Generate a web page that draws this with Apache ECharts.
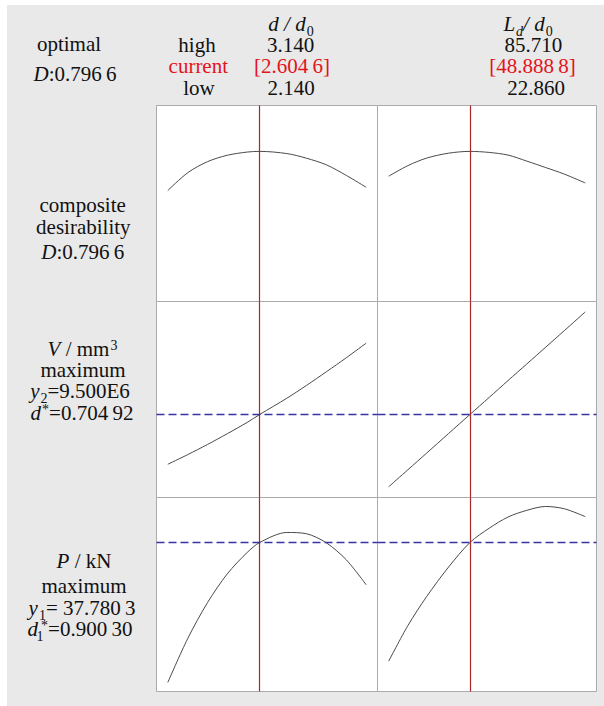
<!DOCTYPE html>
<html>
<head>
<meta charset="utf-8">
<script src="https://cdn.jsdelivr.net/npm/echarts@6/dist/echarts.min.js"></script>
<style>
  html, body { margin: 0; padding: 0; background: #ffffff; }
  #main { width: 604px; height: 706px; }
</style>
</head>
<body>
<div id="main"></div>
<script>
// ---- factor settings ----
const dLow = 2.140, dHigh = 3.140, dCurrent = 2.6046;
const ldLow = 22.860, ldHigh = 85.710, ldCurrent = 48.8888;

// ---- sample points along each factor ----
const dValues  = [2.14, 2.24, 2.34, 2.44, 2.54, 2.6046, 2.74, 2.84, 2.94, 3.04, 3.14];
const ldValues = [22.86, 29, 35, 42, 48.8888, 55, 61, 67, 73, 79, 85.71];

// ---- composite desirability D ----
const desirVsD  = [0.589, 0.683, 0.742, 0.776, 0.793, 0.7966, 0.785, 0.760, 0.725, 0.669, 0.606];
const desirVsLd = [0.665, 0.721, 0.761, 0.787, 0.7966, 0.791, 0.777, 0.745, 0.711, 0.676, 0.629];
const desirCurrent = 0.7966;

// ---- V / mm^3 ----
const volumeVsD  = [7.513e6, 7.895e6, 8.300e6, 8.729e6, 9.178e6, 9.500e6, 10.140e6, 10.656e6, 11.197e6, 11.753e6, 12.333e6];
const volumeVsLd = [6.615e6, 7.295e6, 7.958e6, 8.737e6, 9.500e6, 10.175e6, 10.843e6, 11.503e6, 12.166e6, 12.830e6, 13.577e6];
const volumeCurrent = 9.500e6, volumeDesir = 0.70492;

// ---- P / kN ----
const forceVsD  = [23.72, 28.11, 31.73, 34.62, 36.76, 37.7803, 38.77, 38.64, 37.72, 36.02, 33.52];
const forceVsLd = [25.86, 29.43, 32.34, 35.30, 37.7803, 39.20, 40.32, 40.99, 41.38, 41.15, 40.36];
const forceCurrent = 37.7803, forceDesir = 0.90030;

// ---- axis ranges of the three response rows ----
const desirRange  = [0, 1.04];
const volumeRange = [6.19e6, 13.99e6];
const forceRange  = [22.81, 42.28];

// ---------------------------------------------------------------
const FONT = '"Liberation Serif", "Times New Roman", serif';
const INK = '#111111';
const RED = '#e3141b';

// digits after the point grouped in threes with a thin space
function grouped(v, dec) {
  const s = v.toFixed(dec);
  const parts = s.split('.');
  const frac = parts[1].match(/.{1,3}/g).join('\u2009');
  return parts[0] + '.' + frac;
}

const cols = [
  { left: 156.5, width: 221, xs: dValues,  low: dLow,  high: dHigh,  cur: dCurrent },
  { left: 377.5, width: 219, xs: ldValues, low: ldLow, high: ldHigh, cur: ldCurrent }
];
const rows = [
  { top: 105.5, height: 196, range: desirRange,  ys: [desirVsD,  desirVsLd],  ref: null },
  { top: 301.5, height: 196, range: volumeRange, ys: [volumeVsD, volumeVsLd], ref: volumeCurrent },
  { top: 497.5, height: 194, range: forceRange,  ys: [forceVsD,  forceVsLd],  ref: forceCurrent }
];

const grids = [], xAxes = [], yAxes = [], series = [];
rows.forEach((row, r) => {
  cols.forEach((col, c) => {
    const idx = grids.length;
    const pad = (col.high - col.low) * 0.057;
    grids.push({
      left: col.left, top: row.top, width: col.width, height: row.height,
      show: true, backgroundColor: '#ffffff', borderColor: '#ababab', borderWidth: 1
    });
    xAxes.push({ type: 'value', gridIndex: idx, min: col.low - pad, max: col.high + pad, show: false });
    yAxes.push({ type: 'value', gridIndex: idx, min: row.range[0], max: row.range[1], show: false });
    const marks = [{ xAxis: col.cur, lineStyle: { color: '#a8262c', width: 1.2, type: 'solid' } }];
    if (row.ref !== null) {
      marks.push({ yAxis: row.ref, lineStyle: { color: '#3434a2', width: 1.3, type: [8, 4] } });
    }
    series.push({
      type: 'line',
      xAxisIndex: idx, yAxisIndex: idx,
      data: col.xs.map((x, i) => [x, row.ys[c][i]]),
      smooth: 0.3,
      showSymbol: false,
      lineStyle: { color: '#4a4a4a', width: 1 },
      silent: true,
      markLine: {
        silent: true, symbol: ['none', 'none'], label: { show: false },
        animation: false, data: marks
      }
    });
  });
});

// rich text styles: body, italic, red, subscripts and superscripts
const rich = {
  n:    { fontFamily: FONT, fontSize: 21, lineHeight: 21, fill: INK },
  i:    { fontFamily: FONT, fontSize: 21, lineHeight: 21, fill: INK, fontStyle: 'italic' },
  r:    { fontFamily: FONT, fontSize: 21, lineHeight: 21, fill: RED },
  sub:  { fontFamily: FONT, fontSize: 14, lineHeight: 8, fill: INK, verticalAlign: 'top', padding: [11, 0, 0, 1] },
  isub: { fontFamily: FONT, fontSize: 14, lineHeight: 8, fill: INK, fontStyle: 'italic', verticalAlign: 'top', padding: [11, 0, 0, 1] },
  subz: { fontFamily: FONT, fontSize: 14, lineHeight: 8, fill: INK, verticalAlign: 'top', padding: [11, 0, 0, 2], width: 0 },
  sup:  { fontFamily: FONT, fontSize: 14, lineHeight: 10, fill: INK, verticalAlign: 'top', padding: [0, 0, 0, 1] }
};

function label(cx, cy, text) {
  return {
    type: 'text', x: cx, y: cy, silent: true, z: 100,
    style: {
      text: text, x: 0, y: 0,
      align: 'center', verticalAlign: 'middle',
      textAlign: 'center', textVerticalAlign: 'middle',
      fontFamily: FONT, fontSize: 21, fill: INK,
      rich: rich
    }
  };
}

const texts = [
  // column headers
  label(291, 24.3, '{i|d / d}{sub|0}'),
  label(528, 24.3, '{i|L}{isub|d}{i|/ d}{sub|0}'),
  label(197, 45.3, '{n|high}'),
  label(290.5, 45.3, '{n|' + dHigh.toFixed(3) + '}'),
  label(533.3, 45.3, '{n|' + ldHigh.toFixed(3) + '}'),
  label(198.3, 66.3, '{r|current}'),
  label(292, 66.3, '{r|[' + grouped(dCurrent, 4) + ']}'),
  label(532.5, 66.3, '{r|[' + grouped(ldCurrent, 4) + ']}'),
  label(199, 87.6, '{n|low}'),
  label(291, 87.6, '{n|' + dLow.toFixed(3) + '}'),
  label(536, 87.6, '{n|' + ldLow.toFixed(3) + '}'),
  label(69, 44.3, '{n|optimal}'),
  label(75, 74.3, '{i|D}{n|:' + grouped(desirCurrent, 4) + '}'),
  // row titles
  label(82.7, 205.3, '{n|composite}'),
  label(83.3, 227, '{n|desirability}'),
  label(82.8, 252, '{i|D}{n|:' + grouped(desirCurrent, 4) + '}'),
  label(82.5, 348.6, '{i|V}{n| / mm}{sup|3}'),
  label(83, 369.6, '{n|maximum}'),
  label(80, 391, '{i|y}{sub|2}{n|=' + (volumeCurrent / 1e6).toFixed(3) + 'E6}'),
  label(82, 412.6, '{i|d}{sup|*}{n|=' + grouped(volumeDesir, 5) + '}'),
  label(84, 561.3, '{i|P}{n| / kN}'),
  label(84, 586, '{n|maximum}'),
  label(82, 607.6, '{i|y}{sub|1}{n|= ' + grouped(forceCurrent, 4) + '}'),
  label(80, 629.3, '{i|d}{subz|1}{sup|*}{n|=' + grouped(forceDesir, 5) + '}')
];

const frame = [
  { type: 'rect', silent: true, z: 100, shape: { x: 0, y: 0, width: 604, height: 5 }, style: { fill: '#ffffff' } },
  { type: 'rect', silent: true, z: 100, shape: { x: 0, y: 0, width: 7, height: 706 }, style: { fill: '#ffffff' } }
];

const chart = echarts.init(document.getElementById('main'), null, { renderer: 'svg' });
chart.setOption({
  animation: false,
  backgroundColor: '#e9e9e9',
  grid: grids,
  xAxis: xAxes,
  yAxis: yAxes,
  series: series,
  graphic: { elements: frame.concat(texts) }
});
</script>
</body>
</html>
